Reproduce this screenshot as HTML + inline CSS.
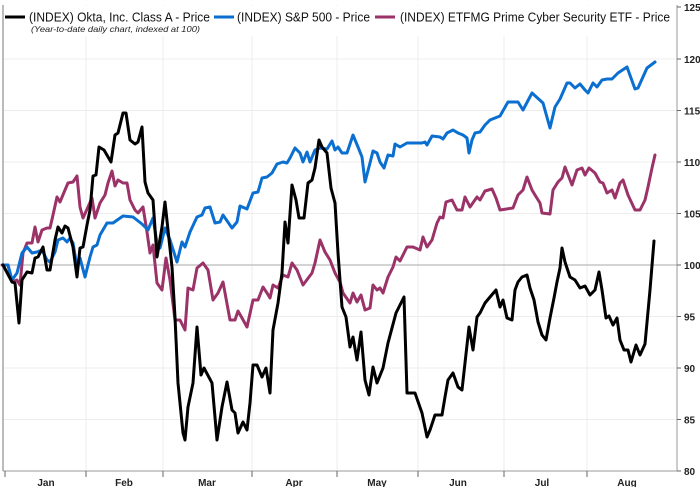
<!DOCTYPE html>
<html><head><style>
body{margin:0;background:#fff;}
svg{display:block;font-family:"Liberation Sans",Arial,sans-serif;}
</style></head><body>
<svg width="700" height="487" viewBox="0 0 700 487">
<rect width="700" height="487" fill="#fff"/>
<g stroke="#ececec" stroke-width="1">
<line x1="3" x2="677" y1="110.5" y2="110.5"/><line x1="3" x2="677" y1="59" y2="59"/>
<line x1="3" x2="677" y1="162" y2="162"/><line x1="3" x2="677" y1="213.5" y2="213.5"/>
<line x1="3" x2="677" y1="316.5" y2="316.5"/><line x1="3" x2="677" y1="368" y2="368"/>
<line x1="3" x2="677" y1="419.5" y2="419.5"/>
<line x1="86" x2="86" y1="5" y2="471"/><line x1="163" x2="163" y1="5" y2="471"/>
<line x1="252" x2="252" y1="5" y2="471"/><line x1="337" x2="337" y1="5" y2="471"/>
<line x1="418" x2="418" y1="5" y2="471"/><line x1="504" x2="504" y1="5" y2="471"/>
<line x1="587" x2="587" y1="5" y2="471"/>
</g>
<line x1="3" x2="677" y1="265" y2="265" stroke="#aaa" stroke-width="1"/>
<line x1="3" x2="3" y1="5" y2="471" stroke="#bbb" stroke-width="2"/>
<line x1="677" x2="677" y1="5" y2="471" stroke="#999" stroke-width="1"/>
<line x1="3" x2="677" y1="471" y2="471" stroke="#999" stroke-width="1"/>
<g stroke="#666" stroke-width="1">
<line x1="677" x2="681" y1="7" y2="7"/><line x1="677" x2="681" y1="59" y2="59"/><line x1="677" x2="681" y1="110.5" y2="110.5"/><line x1="677" x2="681" y1="162" y2="162"/><line x1="677" x2="681" y1="213.5" y2="213.5"/><line x1="677" x2="681" y1="265" y2="265"/><line x1="677" x2="681" y1="316.5" y2="316.5"/><line x1="677" x2="681" y1="368" y2="368"/><line x1="677" x2="681" y1="419.5" y2="419.5"/><line x1="677" x2="681" y1="471" y2="471"/>
<line x1="5" x2="5" y1="471" y2="477"/><line x1="86" x2="86" y1="471" y2="477"/><line x1="163" x2="163" y1="471" y2="477"/><line x1="252" x2="252" y1="471" y2="477"/><line x1="337" x2="337" y1="471" y2="477"/><line x1="418" x2="418" y1="471" y2="477"/><line x1="504" x2="504" y1="471" y2="477"/><line x1="587" x2="587" y1="471" y2="477"/>
</g>
<g font-size="10" font-weight="bold" fill="#222">
<text x="684" y="11">125</text><text x="684" y="63">120</text><text x="684" y="114.5">115</text><text x="684" y="166">110</text><text x="684" y="217.5">105</text><text x="684" y="269">100</text><text x="684" y="320.5">95</text><text x="684" y="372">90</text><text x="684" y="423.5">85</text><text x="684" y="475">80</text>
</g>
<g font-size="10" font-weight="bold" fill="#222" text-anchor="middle">
<text x="46" y="486">Jan</text><text x="124" y="486">Feb</text><text x="207" y="486">Mar</text><text x="294" y="486">Apr</text><text x="377" y="486">May</text><text x="458" y="486">Jun</text><text x="542" y="486">Jul</text><text x="627" y="486">Aug</text>
</g>
<g fill="none" stroke-width="3" stroke-linejoin="round" stroke-linecap="round">
<polyline stroke="#9b3268" points="2,265 8,265 12,282 17,280 20,285 23,253 27,243 32,243 35,227 38,242 42,230 47,228 50,228 53,215 57,197 60,202 65,190 68,183 73,182 77,176 80,207 83,218 88,207 92,198 95,218 100,203 105,195 108,183 112,171 115,186 118,180 123,183 127,183 130,200 135,210 138,213 143,207 147,232 150,253 153,245 157,283 162,290 166,258 170,280 175,320 180,320 185,330 188,288 193,290 197,268 203,263 208,270 213,300 218,293 223,282 230,320 235,320 238,311 242,318 247,327 253,300 258,300 263,287 267,293 270,298 273,285 278,288 283,275 288,277 292,263 297,270 303,285 312,273 315,263 320,240 325,252 330,260 335,273 340,282 343,293 350,303 353,293 357,302 361,295 365,310 370,308 373,285 377,290 380,288 383,293 388,277 393,267 396,257 400,261 407,247 413,247 420,250 423,237 427,247 432,240 437,223 440,217 443,218 446,202 452,200 457,210 462,210 465,197 470,207 477,197 480,200 485,191 492,189 496,198 500,210 513,208 518,195 523,190 527,177 532,190 535,195 540,203 542,213 550,214 553,190 558,182 562,178 565,167 572,185 577,170 582,168 585,175 589,168 595,173 600,182 603,183 607,193 612,190 615,198 620,183 623,180 628,195 635,210 640,210 645,200 648,187 652,168 655,155"/>
<polyline stroke="#0a6fd0" points="3,265 8,265 12,280 17,273 22,253 27,247 32,253 37,252 42,250 47,260 50,262 55,252 58,240 63,238 67,242 70,238 73,243 77,267 80,258 85,277 90,257 93,247 97,245 100,235 107,223 113,223 123,216 133,217 142,224 148,230 153,218 157,243 160,248 165,228 170,240 177,262 182,242 185,247 190,232 197,217 202,215 205,208 210,207 215,223 220,222 223,215 232,228 237,222 240,206 247,209 253,193 258,192 262,178 267,177 272,173 277,164 283,162 287,163 290,158 295,148 300,153 303,162 307,152 310,162 315,150 320,148 327,149 332,141 335,150 338,147 342,153 347,153 353,135 358,147 362,157 365,182 370,163 373,151 377,153 380,162 384,168 388,155 393,156 395,144 400,147 407,143 413,143 422,143 425,142 427,145 432,136 440,137 443,139 447,133 453,130 458,133 463,135 467,138 469,153 472,140 475,133 480,132 485,125 490,120 500,116 508,102 518,102 523,110 532,93 543,103 550,128 555,107 560,99 567,83 570,83 575,88 580,84 585,90 588,93 593,83 597,87 602,80 607,79 612,79 618,73 627,67 635,89 638,88 647,68 655,62"/>
<polyline stroke="#000" points="3,265 12,282 15,283 19,323 22,280 27,272 32,273 35,258 38,257 43,247 47,270 50,270 55,240 58,227 62,233 65,226 68,228 73,247 77,277 80,248 83,247 87,225 90,210 93,176 96,175 99,147 104,150 111,162 115,135 118,133 123,113 126,113 130,140 135,144 138,142 142,127 145,182 148,193 153,200 157,257 162,227 165,202 168,230 172,267 175,317 178,383 183,433 185,440 188,407 193,383 197,327 201,375 204,368 212,383 217,440 222,407 227,382 232,410 235,413 238,433 243,422 247,430 250,403 253,365 257,365 262,377 266,368 270,393 273,330 278,303 282,273 285,222 288,243 292,185 296,200 299,218 304,218 308,183 312,180 315,168 319,140 322,147 327,153 331,188 335,203 338,253 342,307 346,317 350,347 353,337 357,360 361,332 365,380 369,395 373,367 377,383 383,368 388,343 396,313 404,297 407,393 415,393 422,413 427,437 430,430 435,415 442,415 445,397 448,380 453,373 458,387 462,390 469,327 473,350 477,317 480,313 485,303 490,297 496,290 500,307 503,300 507,318 512,320 515,290 518,282 522,277 527,275 530,288 534,300 538,322 542,335 546,340 550,318 554,298 557,282 560,268 562,248 565,262 570,277 575,280 580,288 585,286 590,295 595,290 599,272 602,290 606,318 609,316 613,325 617,318 620,340 624,350 628,350 631,362 636,345 640,355 645,344 650,290 654,241"/>
</g>
<rect x="4" y="6" width="666" height="30" fill="#fff"/>
<g stroke-width="3">
<line x1="5" x2="25" y1="17" y2="17" stroke="#000"/>
<line x1="214" x2="234" y1="17" y2="17" stroke="#0a6fd0"/>
<line x1="375" x2="395" y1="17" y2="17" stroke="#9b3268"/>
</g>
<g font-size="13" fill="#111">
<text x="29" y="21.5" textLength="181" lengthAdjust="spacingAndGlyphs">(INDEX) Okta, Inc. Class A - Price</text>
<text x="237" y="21.5" textLength="133" lengthAdjust="spacingAndGlyphs">(INDEX) S&amp;P 500 - Price</text>
<text x="400" y="21.5" textLength="270" lengthAdjust="spacingAndGlyphs">(INDEX) ETFMG Prime Cyber Security ETF - Price</text>
</g>
<text x="31" y="32" font-size="8.5" font-style="italic" fill="#222" textLength="169" lengthAdjust="spacingAndGlyphs">(Year-to-date daily chart, indexed at 100)</text>
</svg>
</body></html>
